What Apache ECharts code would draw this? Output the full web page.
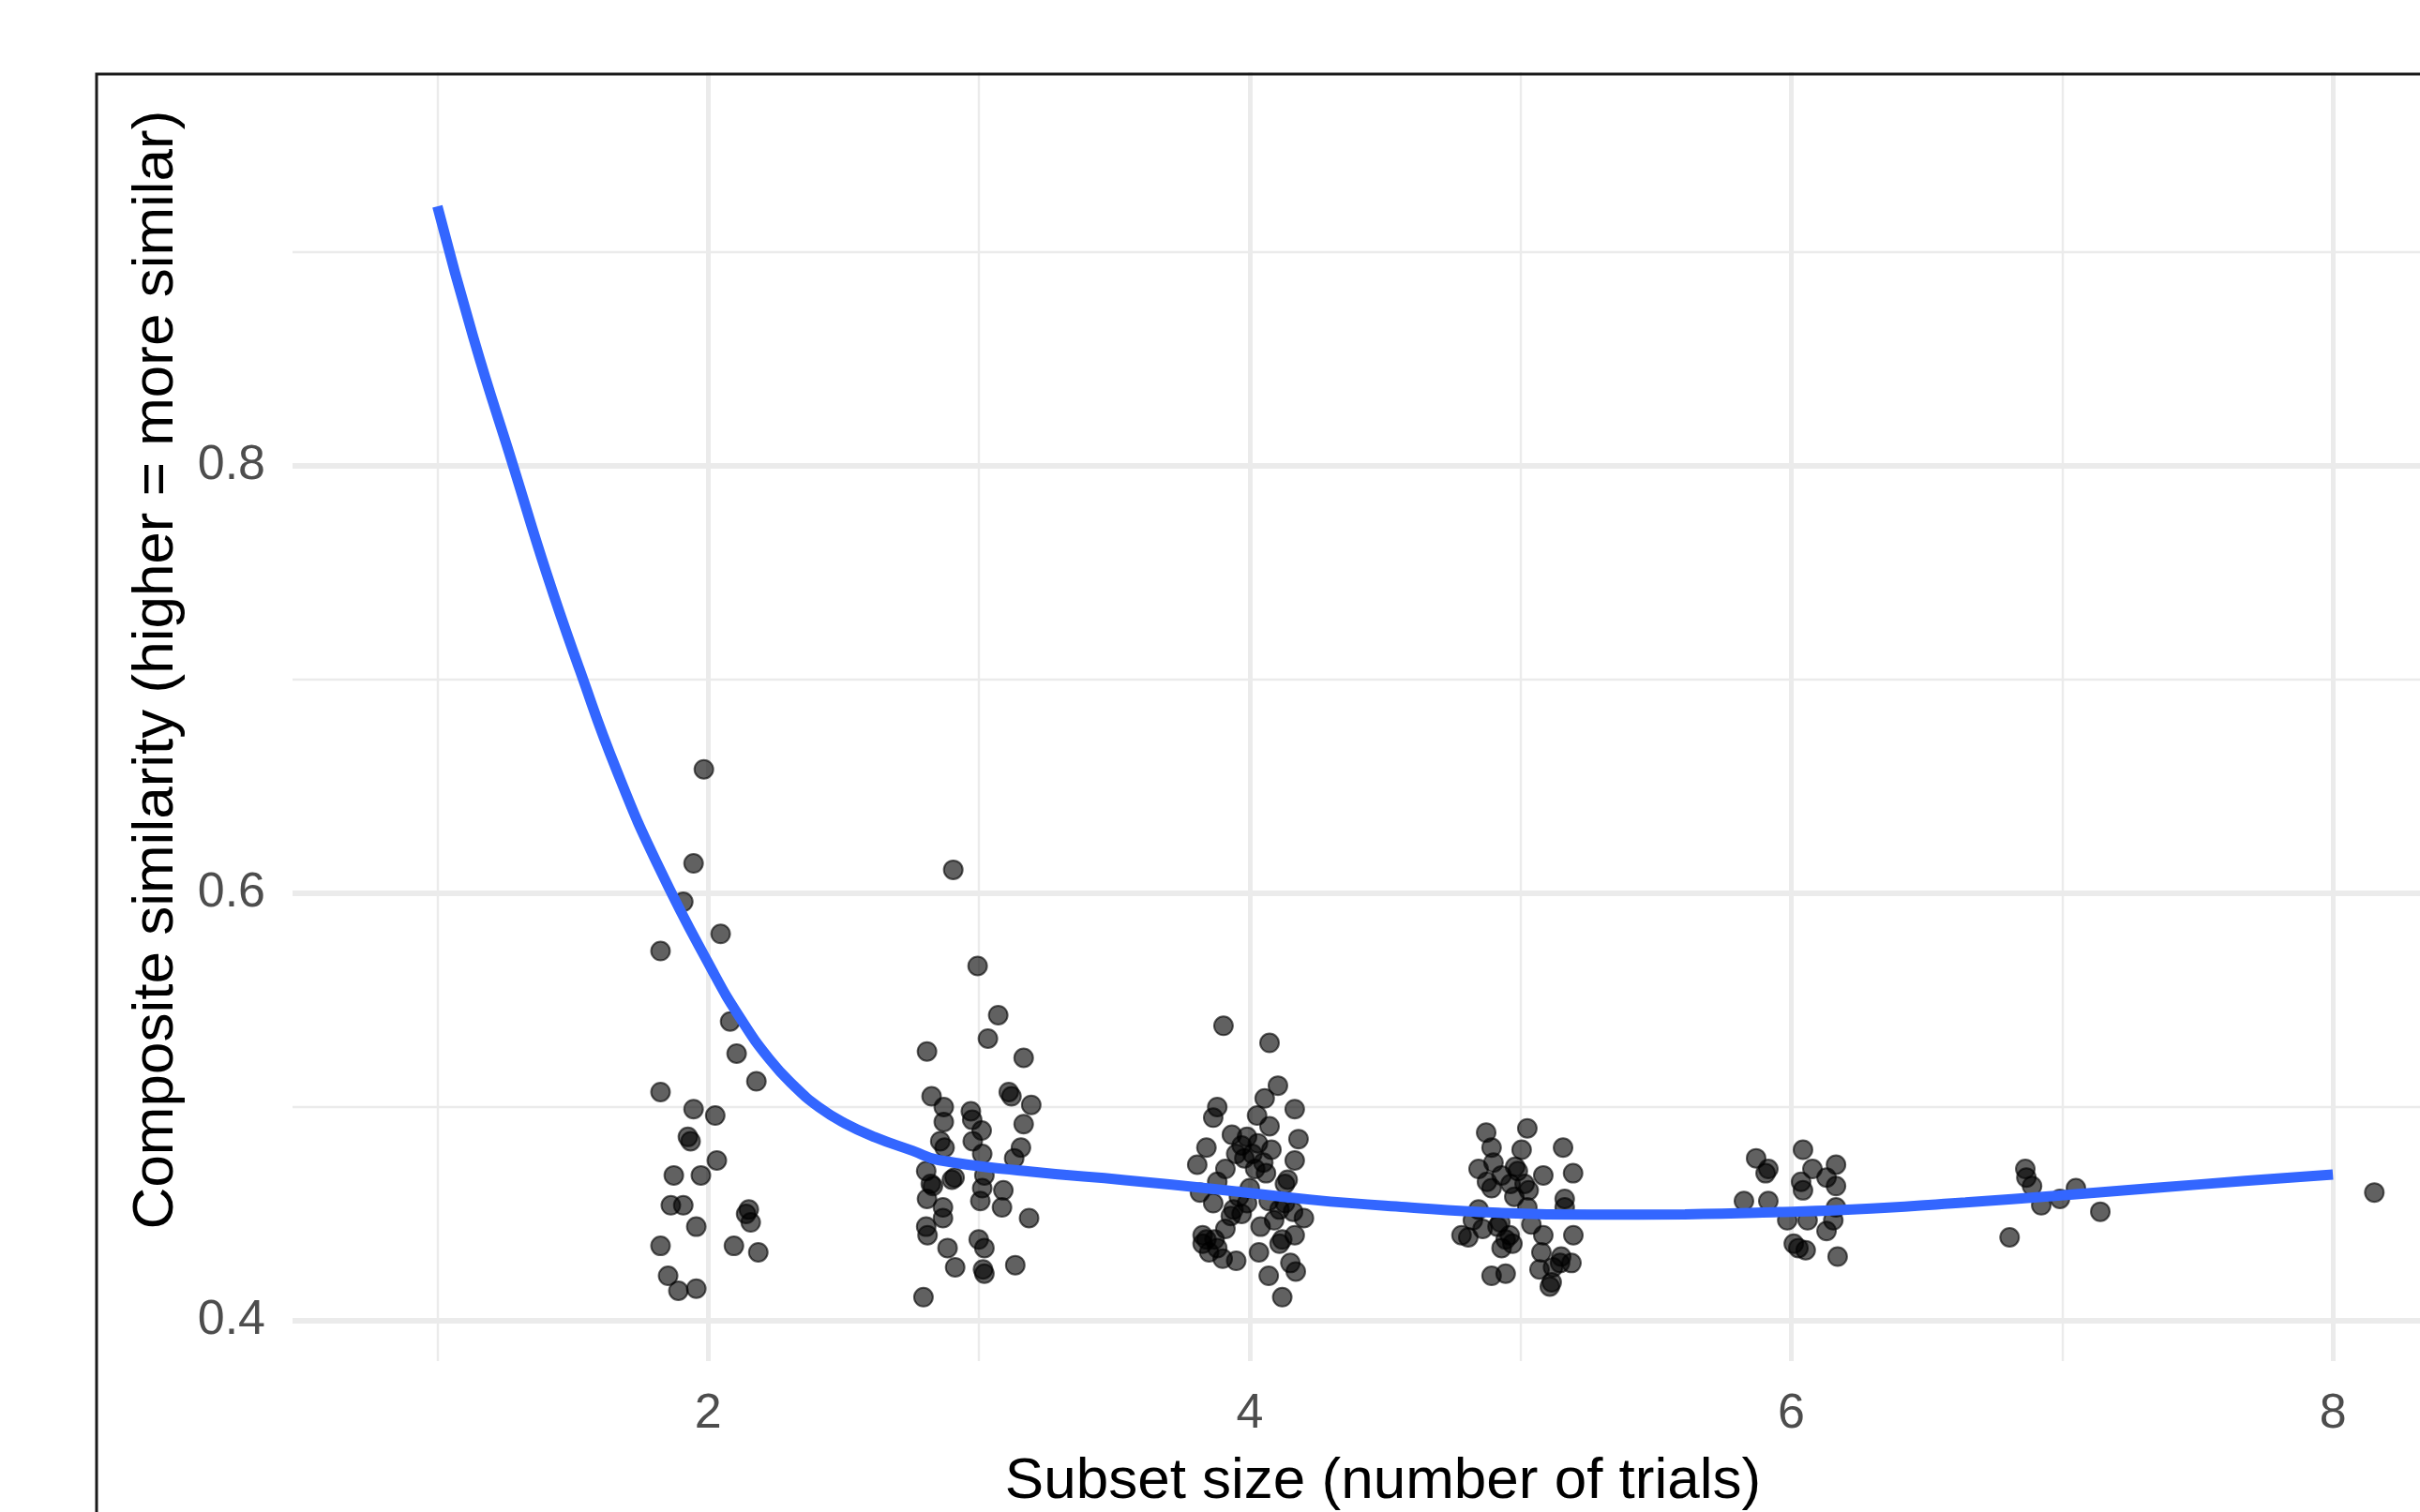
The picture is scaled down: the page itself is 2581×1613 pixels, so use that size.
<!DOCTYPE html>
<html>
<head>
<meta charset="utf-8">
<script src="https://cdn.jsdelivr.net/npm/echarts@6/dist/echarts.min.js"></script>
<style>html,body{margin:0;padding:0;background:#fff;}#c{width:2581px;height:1613px;}</style>
</head>
<body>
<div id="c"></div>
<script>
// ---- data ----
const xMajorTicks = [2, 4, 6, 8];
const xMinorTicks = [1, 3, 5, 7];
const yMajorTicks = [0.4, 0.6, 0.8];
const yMinorTicks = [0.5, 0.7, 0.9];

const pts2 = [[1.984,0.658],[1.946,0.614],[1.908,0.596],[2.046,0.581],[1.824,0.573],[2.081,0.540],[2.105,0.525],[2.178,0.512],[1.824,0.507],[1.946,0.499],[2.026,0.496],[1.925,0.486],[1.935,0.484],[2.032,0.475],[1.873,0.468],[1.973,0.468],[1.862,0.454],[1.908,0.454],[1.956,0.444],[2.140,0.450],[2.150,0.452],[2.157,0.446],[1.824,0.435],[2.095,0.435],[2.185,0.432],[1.852,0.421],[1.890,0.414],[1.956,0.415]];
const pts3 = [[2.905,0.611],[2.995,0.566],[3.071,0.543],[3.033,0.532],[2.808,0.526],[3.165,0.523],[3.11,0.507],[3.12,0.505],[2.825,0.505],[3.193,0.501],[2.87,0.500],[2.87,0.493],[2.97,0.498],[2.975,0.494],[3.01,0.489],[3.165,0.492],[2.857,0.484],[2.977,0.484],[3.155,0.481],[2.873,0.481],[3.012,0.478],[3.13,0.476],[2.805,0.470],[2.822,0.464],[2.83,0.463],[2.9,0.466],[2.91,0.467],[3.02,0.468],[3.012,0.462],[3.09,0.461],[2.808,0.457],[2.867,0.453],[2.867,0.448],[3.005,0.456],[3.085,0.453],[3.185,0.448],[2.805,0.444],[2.81,0.440],[2.884,0.434],[2.999,0.438],[3.02,0.434],[2.912,0.425],[3.015,0.424],[3.02,0.422],[3.134,0.426],[2.795,0.411]];
const pts4 = [[3.903,0.538],[4.073,0.530],[4.104,0.510],[4.055,0.504],[3.88,0.500],[3.865,0.495],[4.166,0.499],[4.027,0.496],[4.073,0.491],[3.934,0.487],[4.18,0.485],[3.84,0.481],[3.97,0.482],[4.03,0.483],[4.08,0.480],[3.98,0.476],[4.05,0.474],[4.02,0.471],[3.806,0.473],[4.166,0.475],[3.91,0.471],[3.88,0.465],[4.14,0.466],[4.13,0.464],[3.816,0.460],[3.865,0.455],[3.94,0.452],[3.99,0.455],[4.07,0.456],[4.11,0.452],[4.16,0.451],[3.93,0.449],[4.2,0.448],[3.91,0.443],[4.04,0.444],[3.826,0.440],[3.826,0.436],[4.166,0.440],[4.11,0.436],[4.12,0.438],[3.85,0.432],[3.90,0.429],[3.95,0.428],[4.034,0.432],[4.15,0.427],[4.17,0.423],[4.07,0.421],[4.12,0.411],[3.99,0.486],[4.01,0.478],[3.96,0.458],[4.09,0.447],[3.87,0.438],[4.0,0.462],[3.95,0.478],[4.06,0.469],[3.97,0.450],[4.13,0.455],[3.84,0.438],[3.88,0.434]];
const pts5 = [[4.873,0.488],[5.025,0.490],[5.157,0.481],[4.893,0.481],[5.004,0.480],[4.9,0.474],[4.98,0.472],[4.99,0.470],[4.845,0.471],[5.084,0.468],[5.194,0.469],[4.876,0.465],[4.893,0.462],[4.963,0.464],[5.015,0.464],[5.163,0.457],[5.163,0.453],[4.977,0.458],[4.845,0.452],[5.025,0.453],[4.824,0.447],[4.915,0.444],[4.925,0.446],[5.04,0.445],[5.084,0.440],[4.807,0.439],[4.782,0.440],[5.195,0.440],[4.945,0.438],[4.97,0.436],[4.93,0.434],[5.077,0.432],[5.146,0.427],[5.188,0.427],[4.893,0.421],[4.945,0.422],[5.07,0.424],[5.115,0.418],[5.108,0.416],[4.93,0.468],[5.03,0.461],[4.86,0.443],[4.96,0.440],[5.12,0.425],[5.15,0.430]];
const pts6 = [[5.87,0.476],[5.915,0.471],[5.905,0.469],[6.043,0.480],[6.165,0.473],[6.078,0.471],[6.036,0.465],[6.043,0.461],[6.13,0.467],[6.165,0.463],[5.825,0.456],[5.915,0.456],[6.165,0.453],[5.985,0.447],[6.06,0.447],[6.155,0.447],[6.13,0.442],[6.009,0.436],[6.053,0.433],[6.026,0.434],[6.171,0.430]];
const pts7 = [[6.864,0.471],[6.868,0.467],[6.889,0.463],[6.923,0.454],[6.992,0.457],[7.051,0.462],[7.141,0.451],[6.806,0.439]];
const pts8 = [[8.153,0.460]];

const smoothX = [1.0,1.133,1.28,1.405,1.526,1.662,1.821,2.018,2.12,2.226,2.32,2.41,2.503,2.618,2.755,2.85,3.196,3.539,3.885,4.228,4.575,4.918,5.264,5.607,5.953,6.296,6.643,6.986,7.332,7.675,8.0];
const smoothY = [0.9215,0.860,0.800,0.749,0.7044,0.6575,0.6114,0.5632,0.5413,0.5224,0.5095,0.4998,0.4925,0.4858,0.4795,0.4752,0.4697,0.4658,0.4614,0.4566,0.4531,0.4505,0.4496,0.4498,0.4508,0.4525,0.4553,0.4585,0.4620,0.4654,0.4684];

const xTitle = 'Subset size (number of trials)';
const yTitle = 'Composite similarity (higher = more similar)';

// ---- chart ----
const FONT = '"Liberation Sans", Arial, sans-serif';
const X_MIN = 0.465, X_MAX = 8.519, Y_MIN = 0.3811, Y_MAX = 1.0281;
const points = [].concat(pts2, pts3, pts4, pts5, pts6, pts7, pts8);
const smooth = smoothX.map((x, i) => [x, smoothY[i]]);

const chart = echarts.init(document.getElementById('c'), null, {renderer: 'canvas'});
const grid = {left: 312, top: -23, width: 2326, height: 1475, containLabel: false, outerBoundsMode: 'none'};

chart.setOption({
  animation: false,
  backgroundColor: '#ffffff',
  grid: grid,
  xAxis: [
    {
      type: 'value', min: X_MIN, max: X_MAX, gridIndex: 0,
      name: xTitle, nameLocation: 'middle', nameGap: 98,
      nameTextStyle: {fontFamily: FONT, fontSize: 62, color: '#000000'},
      axisLine: {show: false},
      axisTick: {show: false, customValues: xMajorTicks},
      axisLabel: {customValues: xMajorTicks, fontFamily: FONT, fontSize: 52, color: '#4D4D4D', margin: 31},
      splitLine: {show: true, lineStyle: {color: '#EBEBEB', width: 5}}
    },
    {
      type: 'value', min: X_MIN, max: X_MAX, gridIndex: 0,
      axisLine: {show: false},
      axisTick: {show: false, customValues: xMinorTicks},
      axisLabel: {show: false, customValues: xMinorTicks},
      splitLine: {show: true, lineStyle: {color: '#EBEBEB', width: 2.4}}
    }
  ],
  yAxis: [
    {
      type: 'value', min: Y_MIN, max: Y_MAX, gridIndex: 0,
      name: yTitle, nameLocation: 'middle', nameGap: 114, nameRotate: 90,
      nameTextStyle: {fontFamily: FONT, fontSize: 62, color: '#000000'},
      axisLine: {show: false},
      axisTick: {show: false, customValues: yMajorTicks},
      axisLabel: {customValues: yMajorTicks, fontFamily: FONT, fontSize: 52, color: '#4D4D4D', margin: 29,
                  formatter: v => v.toFixed(1)},
      splitLine: {show: true, lineStyle: {color: '#EBEBEB', width: 6}}
    },
    {
      type: 'value', min: Y_MIN, max: Y_MAX, gridIndex: 0,
      axisLine: {show: false},
      axisTick: {show: false, customValues: yMinorTicks},
      axisLabel: {show: false, customValues: yMinorTicks},
      splitLine: {show: true, lineStyle: {color: '#EBEBEB', width: 2.4}}
    }
  ],
  series: [
    {
      type: 'scatter', xAxisIndex: 0, yAxisIndex: 0,
      data: points, symbol: 'circle', symbolSize: 20,
      itemStyle: {color: 'rgba(0,0,0,0.62)', borderColor: 'rgba(0,0,0,0.62)', borderWidth: 2, opacity: 1},
      emphasis: {disabled: true}, z: 3
    },
    {
      type: 'line', xAxisIndex: 0, yAxisIndex: 0,
      data: smooth, smooth: 0.5, showSymbol: false, symbol: 'none',
      lineStyle: {color: '#3366FF', width: 11, cap: 'butt'},
      emphasis: {disabled: true}, z: 4
    }
  ],
  graphic: [
    {type: 'rect', z: 100, shape: {x: 0, y: 0, width: 2581, height: 77}, style: {fill: '#ffffff'}},
    {type: 'rect', z: 101, shape: {x: 103, y: 79, width: 3000, height: 3000}, style: {fill: 'transparent', stroke: '#1A1A1A', lineWidth: 3}}
  ]
});
</script>
</body>
</html>
